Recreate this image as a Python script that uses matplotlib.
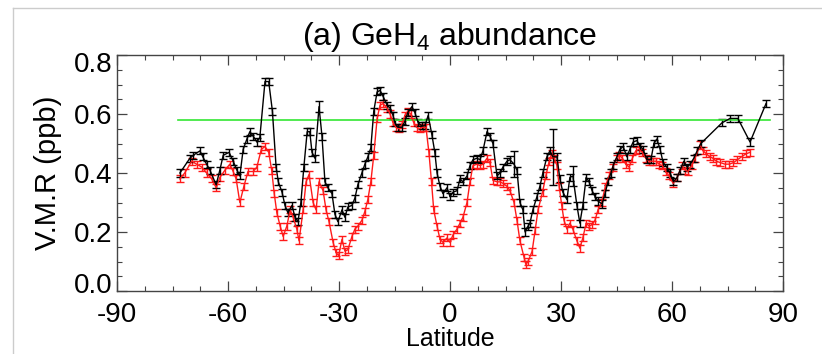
import matplotlib
matplotlib.use("Agg")
import matplotlib.pyplot as plt
from matplotlib.lines import Line2D
from matplotlib.ticker import MultipleLocator
from matplotlib.transforms import ScaledTranslation

plt.rcParams['font.family'] = ['Liberation Sans', 'DejaVu Sans']
plt.rcParams['mathtext.fontset'] = 'custom'
plt.rcParams['mathtext.rm'] = 'Liberation Sans'

# ---- data ----
lat_black = [-73.0, -70.3, -69.4, -67.6, -66.8, -65.8, -64.9, -63.2, -62.2, -61.3,
             -59.7, -58.6, -57.6, -56.8, -55.9, -54.9, -54.1, -53.2, -52.2, -51.4,
             -50.0, -49.0, -48.0, -47.0, -46.4, -45.4, -44.6, -43.8, -42.7, -41.9,
             -41.1, -40.3, -39.5, -38.6, -37.9, -37.3, -36.5, -35.4, -34.6, -33.8,
             -33.0, -31.9, -31.1, -30.3, -29.2, -28.4, -27.6, -26.5, -25.7, -24.9,
             -23.8, -23.0, -22.2, -21.4, -20.6, -19.7, -18.9, -18.1, -17.0, -16.2,
             -15.4, -14.9, -14.1, -13.0, -12.2, -11.4, -10.3, -9.5, -8.6, -7.6,
             -6.8, -5.9, -4.9, -4.1, -3.5, -2.7, -1.9, -0.8, 0.0, 0.8,
             1.9, 2.7, 3.5, 4.6, 5.4, 6.2, 7.3, 8.1, 8.9, 10.0,
             10.8, 11.6, 12.7, 13.5, 14.3, 15.4, 16.2, 17.3, 18.1, 18.9,
             19.7, 20.3, 21.1, 21.6, 22.4, 23.5, 24.3, 25.1, 26.2, 27.0,
             27.8, 28.9, 29.7, 30.5, 31.6, 32.4, 33.2, 34.3, 35.1, 35.9,
             36.8, 37.6, 38.4, 39.2, 40.0, 41.1, 41.9, 42.7, 43.5, 44.1,
             45.1, 45.9, 46.8, 47.8, 48.6, 49.5, 50.5, 51.4, 52.2, 53.2,
             54.3, 55.1, 55.9, 56.8, 57.6, 58.6, 59.5, 60.4, 61.4, 62.2,
             63.2, 64.1, 64.9, 65.9, 66.8, 67.8, 73.5, 75.7, 77.8, 81.1,
             85.4]
vmr_black = [0.40, 0.45, 0.46, 0.475, 0.455, 0.43, 0.41, 0.36, 0.41, 0.46,
             0.47, 0.44, 0.41, 0.39, 0.48, 0.515, 0.54, 0.525, 0.505, 0.52,
             0.71, 0.71, 0.61, 0.42, 0.37, 0.335, 0.29, 0.265, 0.29, 0.25,
             0.235, 0.30, 0.42, 0.54, 0.54, 0.47, 0.45, 0.625, 0.525, 0.37,
             0.35, 0.33, 0.26, 0.235, 0.275, 0.25, 0.285, 0.29, 0.315, 0.36,
             0.40, 0.43, 0.455, 0.485, 0.61, 0.675, 0.68, 0.66, 0.63, 0.62,
             0.595, 0.57, 0.555, 0.555, 0.575, 0.605, 0.625, 0.605, 0.57, 0.56,
             0.56, 0.595, 0.53, 0.47, 0.40, 0.355, 0.33, 0.35, 0.32, 0.335,
             0.34, 0.38, 0.37, 0.39, 0.425, 0.445, 0.45, 0.445, 0.475, 0.54,
             0.525, 0.50, 0.39, 0.40, 0.42, 0.44, 0.445, 0.43, 0.41, 0.30,
             0.275, 0.20, 0.22, 0.23, 0.275, 0.32, 0.355, 0.40, 0.455, 0.475,
             0.455, 0.455, 0.38, 0.335, 0.31, 0.385, 0.39, 0.29, 0.23, 0.29,
             0.385, 0.37, 0.34, 0.32, 0.305, 0.295, 0.33, 0.37, 0.40, 0.425,
             0.455, 0.48, 0.49, 0.455, 0.48, 0.505, 0.51, 0.49, 0.48, 0.445,
             0.445, 0.50, 0.515, 0.48, 0.435, 0.42, 0.40, 0.37, 0.385, 0.41,
             0.44, 0.42, 0.43, 0.45, 0.475, 0.50, 0.57, 0.585, 0.585, 0.505,
             0.635]
err_black = [0.012] * len(vmr_black)
err_black[lat_black.index(17.3)] = 0.045
err_black[lat_black.index(27.8)] = 0.095
err_black[lat_black.index(33.2)] = 0.035
err_black[lat_black.index(-35.4)] = 0.018

lat_red = [-73.0, -71.7, -69.8, -68.5, -67.1, -65.8, -64.4, -63.2, -62.2, -60.8,
           -59.5, -58.6, -57.8, -56.8, -55.7, -54.6, -53.2, -52.2, -51.0, -50.0,
           -49.0, -48.2, -47.5, -46.8, -45.9, -45.1, -44.1, -43.2, -42.4, -41.4,
           -40.8, -39.7, -38.9, -38.1, -37.0, -36.2, -35.4, -34.3, -33.5, -32.7,
           -31.6, -30.8, -30.1, -29.2, -28.4, -27.6, -26.5, -25.7, -24.9, -23.8,
           -23.0, -22.2, -21.4, -20.6, -19.7, -18.9, -18.1, -17.0, -16.2, -15.4,
           -14.6, -13.8, -13.0, -12.2, -11.4, -10.6, -9.8, -9.0, -8.2, -7.4,
           -6.5, -5.7, -5.0, -4.4, -3.5, -2.7, -1.9, -0.8, 0.0, 0.8,
           1.9, 2.7, 3.5, 4.6, 5.4, 6.2, 7.3, 8.1, 8.9, 10.0,
           10.8, 11.6, 12.7, 13.5, 14.3, 15.4, 16.2, 17.3, 18.1, 18.9,
           20.0, 20.5, 21.1, 22.2, 23.0, 23.8, 25.0, 25.9, 26.8, 27.5,
           28.2, 28.9, 29.5, 30.2, 30.8, 31.6, 32.4, 33.2, 34.3, 35.1,
           35.9, 36.8, 37.6, 38.4, 39.2, 40.0, 41.0, 42.0, 43.0, 44.0,
           45.0, 45.8, 46.6, 47.5, 48.4, 49.3, 50.2, 51.1, 52.0, 52.9,
           53.8, 54.8, 55.6, 56.5, 57.4, 58.3, 59.2, 60.3, 61.4, 62.7,
           63.5, 64.3, 65.3, 66.2, 67.6, 68.4, 69.3, 70.2, 71.1, 72.0,
           73.1, 74.3, 75.5, 76.6, 77.7, 78.8, 80.0, 81.1]
vmr_red = [0.38, 0.40, 0.44, 0.43, 0.42, 0.40, 0.38, 0.35, 0.385, 0.41,
           0.43, 0.405, 0.38, 0.30, 0.355, 0.405, 0.405, 0.42, 0.48, 0.49,
           0.47, 0.41, 0.33, 0.265, 0.22, 0.185, 0.22, 0.275, 0.25, 0.21,
           0.17, 0.275, 0.37, 0.395, 0.30, 0.275, 0.37, 0.34, 0.275, 0.235,
           0.165, 0.13, 0.12, 0.175, 0.135, 0.14, 0.185, 0.21, 0.22, 0.24,
           0.27, 0.31, 0.37, 0.46, 0.585, 0.63, 0.635, 0.62, 0.60, 0.57,
           0.555, 0.55, 0.565, 0.595, 0.61, 0.60, 0.57, 0.555, 0.55, 0.555,
           0.555, 0.47, 0.37, 0.275, 0.22, 0.175, 0.165, 0.18, 0.165, 0.19,
           0.21, 0.23, 0.25, 0.30, 0.37, 0.425, 0.43, 0.425, 0.43, 0.45,
           0.435, 0.375, 0.37, 0.37, 0.365, 0.355, 0.34, 0.30, 0.24, 0.17,
           0.115, 0.09, 0.10, 0.135, 0.205, 0.275, 0.335, 0.39, 0.44, 0.465,
           0.45, 0.425, 0.355, 0.29, 0.24, 0.21, 0.23, 0.21, 0.17, 0.145,
           0.18, 0.23, 0.22, 0.225, 0.24, 0.275, 0.30, 0.355, 0.39, 0.42,
           0.45, 0.46, 0.45, 0.43, 0.42, 0.45, 0.475, 0.48, 0.47, 0.45,
           0.44, 0.44, 0.44, 0.43, 0.425, 0.405, 0.39, 0.365, 0.385, 0.425,
           0.41, 0.405, 0.425, 0.45, 0.495, 0.475, 0.465, 0.455, 0.45, 0.44,
           0.435, 0.43, 0.43, 0.435, 0.445, 0.455, 0.465, 0.47]
err_red = [0.012] * len(vmr_red)

ref_lat = [-73.5, 86.5]
ref_vmr = [0.58, 0.58]

title = "(a) GeH$_4$ abundance"
xlabel = "Latitude"
ylabel = "V.M.R (ppb)"
xticks = [-90, -60, -30, 0, 30, 60, 90]
yticks = [0.0, 0.2, 0.4, 0.6, 0.8]

# ---- figure ----
fig = plt.figure(figsize=(8.22, 3.54), dpi=100)
ax = fig.add_axes([117 / 822, 1 - 291 / 354, 666 / 822, 236 / 354])

ax.errorbar(lat_red, vmr_red, yerr=err_red, color='#ff1a1a', lw=1.0,
            elinewidth=1.0, capsize=3.2, capthick=1.0)
ax.errorbar(lat_black, vmr_black, yerr=err_black, color='black', lw=1.0,
            elinewidth=1.0, capsize=2.8, capthick=1.0)
ax.plot(ref_lat, ref_vmr, color='#33e633', lw=1.2)

ax.set_xlim(-90, 90)
ax.set_ylim(0.0, 0.8)
ax.set_xticks(xticks)
ax.set_xticklabels([str(t) for t in xticks])
ax.set_yticks(yticks)
ax.set_yticklabels([f"{t:.1f}" for t in yticks])
ax.xaxis.set_minor_locator(MultipleLocator(7.5))
ax.yaxis.set_minor_locator(MultipleLocator(0.05))
ax.tick_params(which='both', direction='in', top=True, right=True,
               color='#444444', labelsize=20)
ax.tick_params(which='major', length=7, width=0.9)
ax.tick_params(which='minor', length=3.5, width=0.8)
ax.tick_params(axis='x', which='major', pad=8)
ax.tick_params(axis='y', which='major', pad=3)
for s in ax.spines.values():
    s.set_color('#444444')
    s.set_linewidth(1.0)

# nudge the end labels of the y axis inward, as in the original
ylabs = ax.get_yticklabels()
ylabs[0].set_transform(ylabs[0].get_transform() + ScaledTranslation(0, 8 / 100, fig.dpi_scale_trans))
ylabs[-1].set_transform(ylabs[-1].get_transform() + ScaledTranslation(0, -7 / 100, fig.dpi_scale_trans))

ax.set_title(title, fontsize=23, pad=7)
ax.set_xlabel(xlabel, fontsize=18, labelpad=-1)
ax.set_ylabel(ylabel, fontsize=21, labelpad=9)

# light frame of the original panel
fig.add_artist(Line2D([13 / 822, 13 / 822], [0, 1 - 8 / 354], color='#cccccc', lw=1.0))
fig.add_artist(Line2D([13 / 822, 1], [1 - 8 / 354, 1 - 8 / 354], color='#cccccc', lw=1.0))

fig.savefig("out.png", dpi=100)
